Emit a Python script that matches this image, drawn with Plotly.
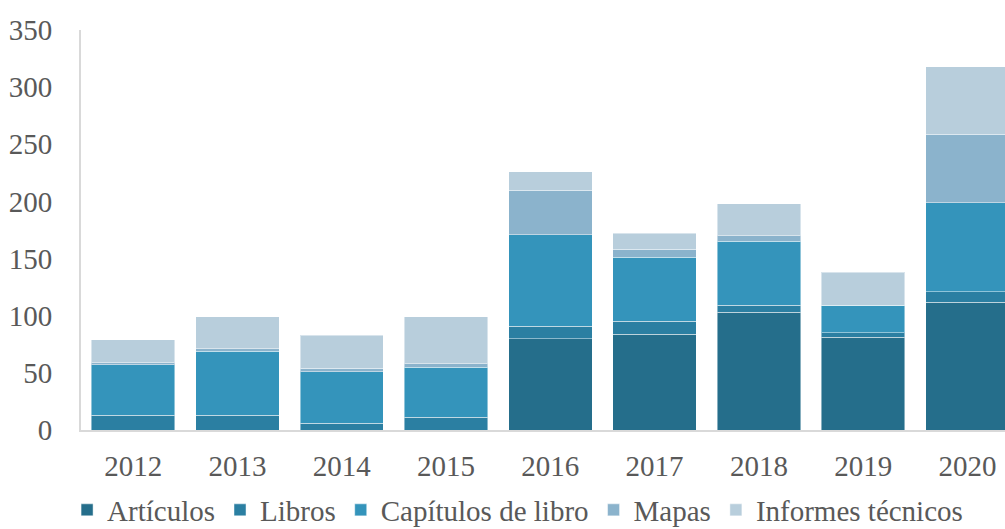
import plotly.graph_objects as go

years = ["2012", "2013", "2014", "2015", "2016", "2017", "2018", "2019", "2020"]
articulos = [0, 0, 0, 0, 80, 84, 103, 81, 112]
libros = [13, 13, 6, 11, 11, 11, 6, 4, 9]
capitulos = [44, 56, 45, 44, 80, 56, 56, 24, 78]
mapas = [2, 2, 3, 3, 39, 7, 5, 0, 60]
informes = [20, 28, 29, 41, 16, 14, 28, 29, 59]

series = [
    ("Artículos", articulos, "#256e8b"),
    ("Libros", libros, "#2b7fa2"),
    ("Capítulos de libro", capitulos, "#3494bb"),
    ("Mapas", mapas, "#8bb3cc"),
    ("Informes técnicos", informes, "#b8cedc"),
]

fig = go.Figure()
for name, vals, color in series:
    fig.add_trace(go.Bar(
        x=years, y=vals, name=name,
        marker=dict(color=color, line=dict(color="rgba(255,255,255,0.45)", width=1)),
    ))

font = dict(family="Liberation Serif, Times New Roman, serif", size=29, color="#595959")

fig.update_layout(
    barmode="stack",
    bargap=0.2,
    width=1005, height=529,
    margin=dict(l=81, r=0, t=30, b=99, autoexpand=False),
    paper_bgcolor="white", plot_bgcolor="white",
    font=font,
    showlegend=True,
    legend=dict(
        orientation="h", xref="container", yref="paper",
        x=0.515, xanchor="center", y=-0.2, yanchor="middle",
        font=font, traceorder="normal", itemwidth=30,
    ),
    xaxis=dict(
        type="category", range=[-0.5, 8.36],
        showline=True, linecolor="#d9d9d9", linewidth=2,
        showgrid=False, ticks="", ticklabelstandoff=9,
        tickfont=font,
    ),
    yaxis=dict(
        range=[0, 350], dtick=50, tick0=0,
        showline=True, linecolor="#d9d9d9", linewidth=2,
        showgrid=False, zeroline=False, ticks="", ticklabelstandoff=21,
        tickfont=font,
    ),
)

fig.write_html("out.html", config={"displayModeBar": False},
               post_script="document.body.style.margin='0';")
